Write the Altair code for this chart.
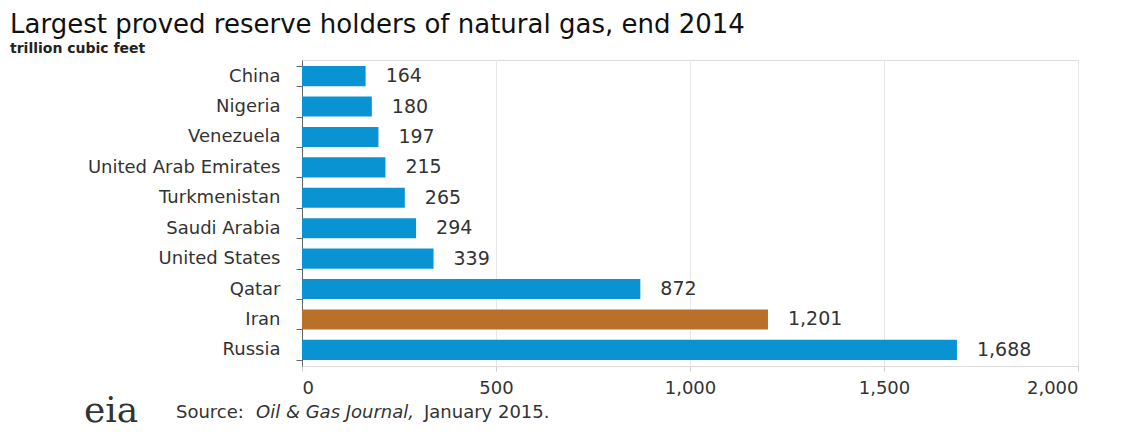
import altair as alt
import pandas as pd

countries = ["China", "Nigeria", "Venezuela", "United Arab Emirates", "Turkmenistan",
             "Saudi Arabia", "United States", "Qatar", "Iran", "Russia"]
reserves = [164, 180, 197, 215, 265, 294, 339, 872, 1201, 1688]
labels = ["164", "180", "197", "215", "265", "294", "339", "872", "1,201", "1,688"]
highlight = ["no", "no", "no", "no", "no", "no", "no", "no", "yes", "no"]
x_ticks = [0, 500, 1000, 1500, 2000]

df = pd.DataFrame({"country": countries, "value": reserves, "label": labels, "hl": highlight})
one = pd.DataFrame({"k": [0]})

FONT = "DejaVu Sans"

y_enc = alt.Y("country:N", sort=countries, title=None,
              scale=alt.Scale(paddingInner=0.34, paddingOuter=0.2),
              axis=alt.Axis(tickBand="extent", labelFontSize=18, labelColor="#333",
                            labelFont=FONT, labelPadding=16, tickSize=6, labelLimit=400,
                            tickColor="#666", domainColor="#666", grid=False))
x_enc = alt.X("value:Q", title=None,
              scale=alt.Scale(domain=[0, 2000], nice=False),
              axis=alt.Axis(values=x_ticks, format=",.0f", labelFontSize=18, labelColor="#333",
                            labelFont=FONT, labelPadding=8, tickSize=5, tickColor="#ccc",
                            domainColor="#ddd", gridColor="#e8e8e8", grid=True))

bars = alt.Chart(df).mark_bar().encode(
    y=y_enc, x=x_enc,
    color=alt.Color("hl:N", scale=alt.Scale(domain=["no", "yes"], range=["#0a93d3", "#b9702b"]),
                    legend=None),
)

text = alt.Chart(df).mark_text(align="left", baseline="middle", dx=20, fontSize=19,
                               font=FONT, color="#333").encode(
    y=alt.Y("country:N", sort=countries), x="value:Q", text="label:N")

def note(txt, x, style="normal", size=18, font=FONT, color="#333", y=353):
    return alt.Chart(one).mark_text(align="left", baseline="middle", fontSize=size, font=font,
                                    fontStyle=style, color=color).encode(
        x=alt.value(x), y=alt.value(y), text=alt.value(txt))

source1 = note("Source:", -126)
source2 = note("Oil & Gas Journal,", -46, style="italic")
source3 = note("January 2015.", 122)
logo = note("eia", -218, size=36, font="DejaVu Serif", color="#333", y=351)

chart = alt.layer(bars, text, source1, source2, source3, logo).properties(
    width=776, height=306,
    autosize=alt.AutoSizeParams(type="none"),
    padding={"left": 294, "top": 52, "right": 44, "bottom": 66},
    title=alt.TitleParams(
        "Largest  proved reserve holders of natural  gas, end 2014",
        subtitle="trillion  cubic feet",
        anchor="start", frame="group", dx=-292, dy=9, fontSize=26, font=FONT,
        fontWeight="normal", color="#111", subtitleFont=FONT, subtitleFontSize=14,
        subtitleFontWeight="bold", subtitleColor="#222", subtitlePadding=4, offset=4),
).configure_view(stroke=None).configure(background="white")

chart.save("out.html", embed_options={"renderer": "svg", "actions": False})
